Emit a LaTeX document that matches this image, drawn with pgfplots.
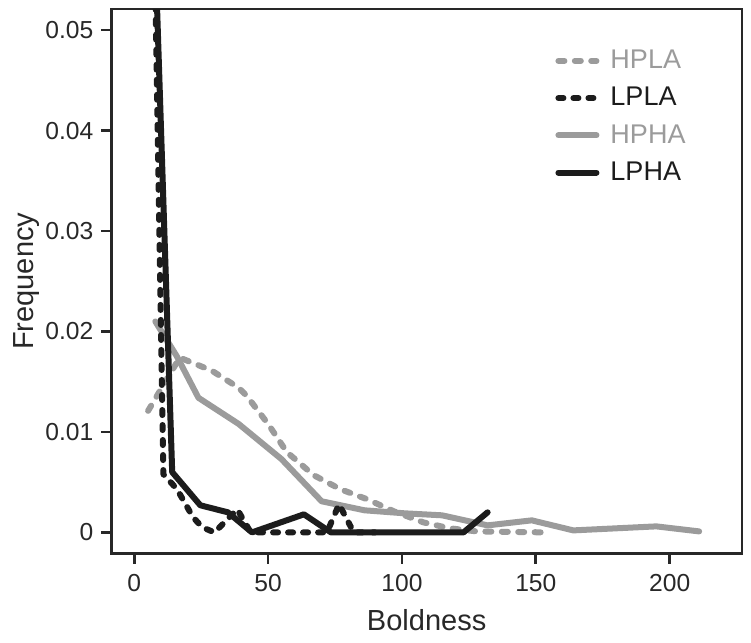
\documentclass[border=0pt]{standalone}
\usepackage{pgfplots}
\pgfplotsset{compat=1.18}
\usepackage{fontspec}
\setmainfont{Liberation Sans}
\definecolor{hp}{RGB}{155,155,155}
\definecolor{lp}{RGB}{28,28,28}
\definecolor{ax}{RGB}{40,40,40}

\begin{document}
\begin{tikzpicture}
\begin{axis}[
    scale only axis,
    width=315pt, height=272pt,
    xmin=-8.5, xmax=227,
    ymin=-0.0021, ymax=0.0521,
    xtick={0,50,100,150,200},
    ytick={0,0.01,0.02,0.03,0.04,0.05},
    yticklabels={0,0.01,0.02,0.03,0.04,0.05},
    scaled y ticks=false,
    /pgf/number format/assume math mode=true,
    tick align=outside,
    xtick pos=bottom, ytick pos=left,
    major tick length=5pt,
    axis line style={ax, line width=1.4pt},
    every tick/.style={ax, line width=1.4pt},
    ticklabel style={font=\fontsize{12.3}{14}\selectfont, text=ax},
    xticklabel style={yshift=-2pt},
    yticklabel style={xshift=-0.5pt},
    xlabel={Boldness}, ylabel={Frequency},
    label style={font=\fontsize{14.5}{17}\selectfont, text=ax},
    xlabel style={yshift=-2pt},
    ylabel style={yshift=-4pt},
    legend style={draw=none, fill=none, at={(0.927,0.94)}, anchor=north east,
        font=\fontsize{13.5}{16}\selectfont, row sep=3.8pt, column sep=3.5pt},
    legend cell align=left,
    legend image code/.code={\draw[#1] (0pt,0pt) -- (19pt,0pt);},
    every axis plot/.append style={line width=3pt, line join=round, line cap=round},
]
% HPHA
\addplot[hp, forget plot] coordinates {
 (7.9,0.0210) (16,0.0175) (24,0.0134) (39,0.0108) (55,0.0073) (70,0.0031)
 (86,0.0022) (101,0.0019) (115,0.0017) (132,0.0007) (148.5,0.0012)
 (164,0.0002) (195,0.0006) (211,0.0001)
};
% HPLA
\addplot[hp, dash pattern=on 3pt off 5.2pt, forget plot] coordinates {
 (5.2,0.0121) (17,0.0174) (29,0.0161) (39,0.0144) (42,0.0136) (50,0.0108)
 (57,0.0080) (67,0.0057) (77,0.0043) (87,0.0033) (97,0.0021) (108,0.0010)
 (118,0.0004) (128,0.0001) (154,0.0000)
};
% LPLA
\addplot[lp, dash pattern=on 2.5pt off 5pt, forget plot] coordinates {
 (7.5,0.0600) (10.9,0.0058) (16,0.0043) (19,0.0029) (22,0.0015) (25.5,0.0005)
 (30,0.0000) (38.5,0.0023) (43.5,0.0000) (72,0.0000) (76.5,0.0028)
 (82,0.0000) (90,0.0000)
};
% LPHA
\addplot[lp, forget plot] coordinates {
 (7.6,0.0600) (14.2,0.0060) (24.7,0.0027) (35,0.0020) (44,0.0000)
 (63.4,0.0018) (73.5,0.0000) (123,0.0000) (132,0.0020)
};
\addlegendimage{hp, line width=3pt, line cap=round, dash pattern=on 3pt off 5.2pt}
\addlegendentry{\textcolor{hp}{HPLA}}
\addlegendimage{lp, line width=3pt, line cap=round, dash pattern=on 2.5pt off 5pt}
\addlegendentry{\textcolor{lp}{LPLA}}
\addlegendimage{hp, line width=3pt, line cap=round}
\addlegendentry{\textcolor{hp}{HPHA}}
\addlegendimage{lp, line width=3pt, line cap=round}
\addlegendentry{\textcolor{lp}{LPHA}}
\end{axis}
\path ([yshift=4.5pt]current axis.north) ([xshift=4.5pt]current axis.east)
      ([yshift=-2.5pt]current axis.outer south) ([xshift=-3.5pt]current axis.outer west);
\end{tikzpicture}
\end{document}
